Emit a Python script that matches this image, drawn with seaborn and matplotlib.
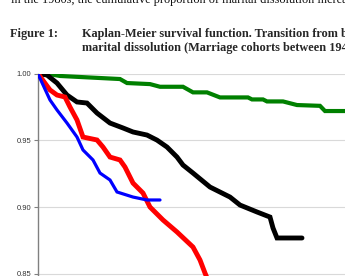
import matplotlib
matplotlib.use("Agg")
import matplotlib.pyplot as plt
import seaborn as sns
import pandas as pd

# Duration (years since marriage) and survival probabilities
green_t = [0.0, 1.2, 2.2, 8.2, 8.9, 11.2, 12.2, 14.5, 15.5, 16.9, 18.2, 21.0, 21.4, 22.5, 22.9, 24.5, 25.9, 28.2, 28.7, 32.2]
green_s = [1.000, 0.9996, 0.9983, 0.9960, 0.9930, 0.9922, 0.9902, 0.9902, 0.9860, 0.9860, 0.9822, 0.9822, 0.9807, 0.9807, 0.9792, 0.9792, 0.9765, 0.9759, 0.9720, 0.9720]

black_t = [0.0, 0.9, 1.9, 2.9, 3.9, 4.9, 5.9, 7.2, 8.5, 9.5, 10.9, 11.9, 12.9, 13.9, 14.5, 15.5, 17.2, 19.2, 20.2, 21.9, 23.2, 23.5, 23.9, 26.4]
black_s = [1.000, 0.9990, 0.9930, 0.9840, 0.9788, 0.9780, 0.9705, 0.9630, 0.9593, 0.9563, 0.9540, 0.9502, 0.9450, 0.9375, 0.9315, 0.9255, 0.9150, 0.9075, 0.9015, 0.8963, 0.8925, 0.8843, 0.8768, 0.8768]

red_t = [0.0, 1.2, 1.9, 2.7, 3.2, 3.9, 4.5, 5.9, 6.5, 7.2, 8.2, 8.7, 9.5, 10.5, 11.2, 12.5, 13.9, 15.5, 16.2, 16.7, 17.2]
red_s = [1.000, 0.9878, 0.9840, 0.9825, 0.9750, 0.9653, 0.9525, 0.9503, 0.9450, 0.9375, 0.9353, 0.9300, 0.9180, 0.9105, 0.9000, 0.8903, 0.8813, 0.8700, 0.8603, 0.8505, 0.8416]

blue_t = [0.0, 1.2, 1.9, 2.9, 3.9, 4.5, 5.5, 6.2, 7.2, 7.9, 9.5, 10.9, 12.2]
blue_s = [0.9998, 0.9803, 0.9728, 0.9630, 0.9525, 0.9428, 0.9353, 0.9255, 0.9203, 0.9113, 0.9075, 0.9053, 0.9053]

series_names = ["green", "black", "red", "blue"]
y_ticks = [0.85, 0.90, 0.95, 1.00]

frames = []
for name, t, s in zip(series_names, [green_t, black_t, red_t, blue_t], [green_s, black_s, red_s, blue_s]):
    frames.append(pd.DataFrame({"t": t, "s": s, "group": name}))
df = pd.concat(frames, ignore_index=True)

sns.set_theme(style="white")
plt.rcParams["font.family"] = ["Liberation Sans", "DejaVu Sans"]

fig = plt.figure(figsize=(3.45, 2.76), dpi=100)
W, H = 345.0, 276.0
left_px, top_px = 38.0, 73.7
ax_w_px, ax_h_px = 400.0, 266.7
ax = fig.add_axes([left_px / W, (H - top_px - ax_h_px) / H, ax_w_px / W, ax_h_px / H])

palette = {"green": "#008000", "black": "#000000", "red": "#ff0000", "blue": "#0000ff"}
widths = {"green": 3.0, "black": 3.5, "red": 3.5, "blue": 2.3}
for name in series_names:
    sub = df[df["group"] == name]
    sns.lineplot(data=sub, x="t", y="s", color=palette[name], lw=widths[name],
                 sort=False, estimator=None, ax=ax, legend=False,
                 solid_joinstyle="miter", zorder=3)

ax.set_xlim(0, 40)
ax.set_ylim(0.80, 1.00)
ax.set_yticks(y_ticks)
ax.set_yticklabels([f"{v:.2f}" for v in y_ticks])
ax.set_xticks([])
ax.set_xlabel("")
ax.set_ylabel("")
ax.grid(axis="y", color="#d9d9d9", lw=0.8)
ax.set_axisbelow(True)
for sp in ["top", "right", "bottom"]:
    ax.spines[sp].set_visible(False)
ax.spines["left"].set_color("#808080")
ax.spines["left"].set_linewidth(1.0)
ax.tick_params(axis="y", direction="out", length=3, width=0.8, color="#808080",
               labelsize=5.5, labelcolor="#333333", pad=2, left=True)

serif = ["Liberation Serif", "DejaVu Serif"]
fs = 8.8
fig.text(11 / W, 1 - 3.5 / H, "in the 1980s, the cumulative proportion of marital dissolution increased",
         family=serif, fontsize=fs, va="baseline", ha="left", color="#111111")
fig.text(10 / W, 1 - 37 / H, "Figure 1:", family=serif, fontsize=fs, fontweight="bold",
         va="baseline", ha="left")
fig.text(82 / W, 1 - 37 / H, "Kaplan-Meier survival function. Transition from birth to",
         family=serif, fontsize=fs, fontweight="bold", va="baseline", ha="left")
fig.text(82 / W, 1 - 51 / H, "marital dissolution (Marriage cohorts between 1945 and",
         family=serif, fontsize=fs, fontweight="bold", va="baseline", ha="left")

fig.savefig("out.png", dpi=100)
